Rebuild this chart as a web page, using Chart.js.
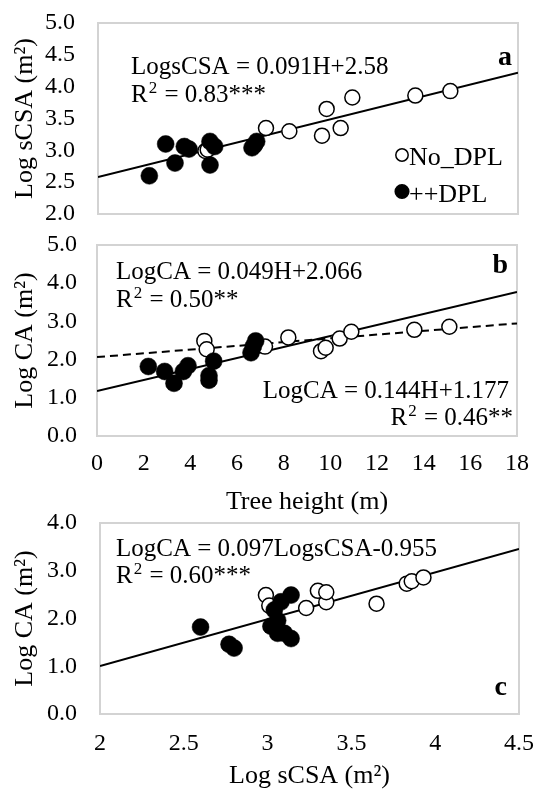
<!DOCTYPE html>
<html>
<head>
<meta charset="utf-8">
<script src="https://cdn.jsdelivr.net/npm/chart.js@4.4.1/dist/chart.umd.min.js"></script>
<style>
html, body { margin: 0; padding: 0; background: #fff; }
#wrap { position: relative; width: 538px; height: 790px; overflow: hidden; }
canvas { position: absolute; left: 0; }
</style>
</head>
<body>
<div id="wrap">
  <canvas id="chartA" width="538" height="230" style="top:0px"></canvas>
  <canvas id="chartB" width="538" height="288" style="top:230px"></canvas>
  <canvas id="chartC" width="538" height="292" style="top:500px"></canvas>
</div>
<script>
// ++DPL trees (filled circles)
const dplHeight  = [2.2, 2.9, 3.3, 3.7, 3.9, 4.8, 4.8, 5.0, 6.6, 6.7, 6.8];
const dplLogSCSA = [2.60, 3.10, 2.80, 3.06, 3.02, 3.14, 2.77, 3.06, 3.04, 3.08, 3.14];
const dplLogCA   = [1.82, 1.69, 1.38, 1.69, 1.84, 1.58, 1.46, 1.96, 2.18, 2.35, 2.49];

// No_DPL trees (open circles)
const noHeight  = [4.6, 4.7, 7.2, 8.2, 9.6, 9.8, 10.4, 10.9, 13.6, 15.1];
const noLogSCSA = [2.99, 3.01, 3.35, 3.30, 3.23, 3.65, 3.35, 3.83, 3.86, 3.93];
const noLogCA   = [2.49, 2.27, 2.34, 2.58, 2.22, 2.31, 2.55, 2.73, 2.78, 2.86];

// fitted lines: [slope, intercept]
const fitA    = [0.091, 2.58];
const fitBDpl = [0.144, 1.177];
const fitBNo  = [0.049, 2.066];
const fitC    = [0.98, -0.955];

// axis ticks
const heightTicks = [0, 2, 4, 6, 8, 10, 12, 14, 16, 18];
const scsaTicks   = [2, 2.5, 3, 3.5, 4, 4.5];
const yTicksA = [2.0, 2.5, 3.0, 3.5, 4.0, 4.5, 5.0];
const yTicksB = [0, 1, 2, 3, 4, 5];
const yTicksC = [0, 1, 2, 3, 4];

const labels = ['No_DPL', '++DPL'];

const FAMILY = "'Liberation Serif', 'Times New Roman', serif";
Chart.defaults.font.family = FAMILY;
Chart.defaults.color = '#000';

function pts(xs, ys) {
    return xs.map((x, i) => ({ x: x, y: ys[i] }));
}

function fitLine(fit, x0, x1) {
    return [{ x: x0, y: fit[0] * x0 + fit[1] }, { x: x1, y: fit[0] * x1 + fit[1] }];
}

function openSet(data) {
    return {
        label: labels[0], data: data, order: 1,
        pointRadius: 7.5, pointBackgroundColor: '#fff',
        pointBorderColor: '#000', pointBorderWidth: 1.5
    };
}

function filledSet(data) {
    return {
        label: labels[1], data: data, order: 0,
        pointRadius: 8.5, pointBackgroundColor: '#000',
        pointBorderColor: '#000', pointBorderWidth: 0.5
    };
}

function lineSet(data, dash) {
    return {
        label: 'fit', data: data, showLine: true, order: 5,
        borderColor: '#000', borderWidth: 2, borderDash: dash || [],
        pointRadius: 0
    };
}

// gap between labels and frame comes from an invisible tick mark,
// so it does not push the chart area around
function hiddenGrid(gap) {
    return { display: false, drawTicks: true, tickLength: gap, tickColor: 'rgba(0,0,0,0)' };
}

function axisY(title, ticks, width, gap) {
    return {
        type: 'linear', position: 'left',
        min: ticks[0], max: ticks[ticks.length - 1],
        grid: hiddenGrid(gap),
        border: { display: false },
        ticks: { autoSkip: false, padding: 0, font: { size: 24 }, color: '#000', callback: v => v.toFixed(1) },
        afterBuildTicks: s => { s.ticks = ticks.map(v => ({ value: v })); },
        afterFit: s => { s.width = width; },
        title: { display: true, text: title, font: { size: 26 }, color: '#000', padding: { top: 10, bottom: 0 } }
    };
}

function axisX(title, ticks, height, gap) {
    const ax = {
        type: 'linear', position: 'bottom',
        min: ticks[0], max: ticks[ticks.length - 1],
        grid: hiddenGrid(gap),
        border: { display: false },
        ticks: { autoSkip: false, maxRotation: 0, padding: 0, font: { size: 24 }, color: '#000', callback: v => String(v) },
        afterBuildTicks: s => { s.ticks = ticks.map(v => ({ value: v })); },
        afterFit: s => { s.height = height; },
        title: { display: true, text: title, font: { size: 26 }, color: '#000', padding: { top: 0, bottom: 0 } }
    };
    if (!title) ax.display = false;
    return ax;
}

// text drawn inside each panel (canvas coordinates)
const panelNotes = {
    chartA: [
        { parts: ['LogsCSA = 0.091H+2.58'], x: 131, y: 74 },
        { parts: ['R', { sup: '2' }, ' = 0.83***'], x: 131, y: 102 },
        { parts: ['a'], x: 512, y: 65, align: 'right', bold: true }
    ],
    chartB: [
        { parts: ['LogCA = 0.049H+2.066'], x: 116, y: 49 },
        { parts: ['R', { sup: '2' }, ' = 0.50**'], x: 116, y: 77 },
        { parts: ['LogCA = 0.144H+1.177'], x: 509, y: 168, align: 'right' },
        { parts: ['R', { sup: '2' }, ' = 0.46**'], x: 511, y: 195, align: 'right' },
        { parts: ['b'], x: 508, y: 43, align: 'right', bold: true }
    ],
    chartC: [
        { parts: ['LogCA = 0.097LogsCSA-0.955'], x: 116, y: 56 },
        { parts: ['R', { sup: '2' }, ' = 0.60***'], x: 116, y: 83 },
        { parts: ['c'], x: 507, y: 195, align: 'right', bold: true }
    ]
};

function drawRich(ctx, note) {
    const size = note.bold ? 28 : 25;
    const supSize = Math.round(size * 0.66);
    const base = (note.bold ? 'bold ' : '') + size + 'px ' + FAMILY;
    const small = supSize + 'px ' + FAMILY;
    let widths = note.parts.map(p => {
        ctx.font = typeof p === 'string' ? base : small;
        return ctx.measureText(typeof p === 'string' ? p : p.sup).width;
    });
    const total = widths.reduce((a, b) => a + b, 0);
    let cx = note.align === 'right' ? note.x - total : note.x;
    note.parts.forEach((p, i) => {
        if (typeof p === 'string') {
            ctx.font = base;
            ctx.fillText(p, cx, note.y);
        } else {
            ctx.font = small;
            ctx.fillText(p.sup, cx + 1, note.y - size * 0.36);
        }
        cx += widths[i] + (typeof p === 'string' ? 0 : 2);
    });
}

const framePlugin = {
    id: 'frame',
    beforeDatasetsDraw(chart) {
        const a = chart.chartArea;
        const ctx = chart.ctx;
        ctx.save();
        ctx.strokeStyle = '#d3d3d3';
        ctx.lineWidth = 2;
        ctx.strokeRect(a.left, a.top, a.right - a.left, a.bottom - a.top);
        ctx.restore();
    },
    afterDraw(chart) {
        const ctx = chart.ctx;
        ctx.save();
        ctx.fillStyle = '#000';
        ctx.textBaseline = 'alphabetic';
        ctx.textAlign = 'left';
        (panelNotes[chart.canvas.id] || []).forEach(n => drawRich(ctx, n));
        // legend in panel a
        if (chart.canvas.id === 'chartA') {
            const rows = [
                { ds: chart.data.datasets[0], cy: 155, ty: 165 },
                { ds: chart.data.datasets[1], cy: 191.5, ty: 201.5 }
            ];
            rows.forEach(r => {
                ctx.beginPath();
                ctx.arc(402, r.cy, r.ds.pointBackgroundColor === '#fff' ? 6.2 : 6.8, 0, Math.PI * 2);
                ctx.fillStyle = r.ds.pointBackgroundColor;
                ctx.fill();
                ctx.lineWidth = 1.5;
                ctx.strokeStyle = '#000';
                ctx.stroke();
                ctx.fillStyle = '#000';
                ctx.font = '26px ' + FAMILY;
                ctx.fillText(r.ds.label, 409, r.ty);
            });
        }
        ctx.restore();
    }
};

const common = {
    responsive: false,
    animation: false,
    events: [],
    plugins: { legend: { display: false }, tooltip: { enabled: false } }
};

new Chart(document.getElementById('chartA'), {
    type: 'scatter',
    data: {
        datasets: [
            openSet(pts(noHeight, noLogSCSA)),
            filledSet(pts(dplHeight, dplLogSCSA)),
            lineSet(fitLine(fitA, 0, 18))
        ]
    },
    options: Object.assign({}, common, {
        layout: { padding: { top: 23, right: 20, bottom: 16, left: 0 } },
        scales: {
            x: axisX('', heightTicks, 0, 0),
            y: axisY('Log sCSA (m²)', yTicksA, 98, 23)
        }
    }),
    plugins: [framePlugin]
});

new Chart(document.getElementById('chartB'), {
    type: 'scatter',
    data: {
        datasets: [
            openSet(pts(noHeight, noLogCA)),
            filledSet(pts(dplHeight, dplLogCA)),
            lineSet(fitLine(fitBDpl, 0, 18)),
            lineSet(fitLine(fitBNo, 0, 18), [8, 5])
        ]
    },
    options: Object.assign({}, common, {
        layout: { padding: { top: 15, right: 21, bottom: 0, left: 0 } },
        scales: {
            x: axisX('Tree height (m)', heightTicks, 82, 13),
            y: axisY('Log CA (m²)', yTicksB, 97, 20)
        }
    }),
    plugins: [framePlugin]
});

new Chart(document.getElementById('chartC'), {
    type: 'scatter',
    data: {
        datasets: [
            openSet(pts(noLogSCSA, noLogCA)),
            filledSet(pts(dplLogSCSA, dplLogCA)),
            lineSet(fitLine(fitC, 2, 4.5))
        ]
    },
    options: Object.assign({}, common, {
        layout: { padding: { top: 23, right: 19, bottom: 0, left: 0 } },
        scales: {
            x: axisX('Log sCSA (m²)', scsaTicks, 78, 15),
            y: axisY('Log CA (m²)', yTicksC, 100, 23)
        }
    }),
    plugins: [framePlugin]
});
</script>
</body>
</html>
